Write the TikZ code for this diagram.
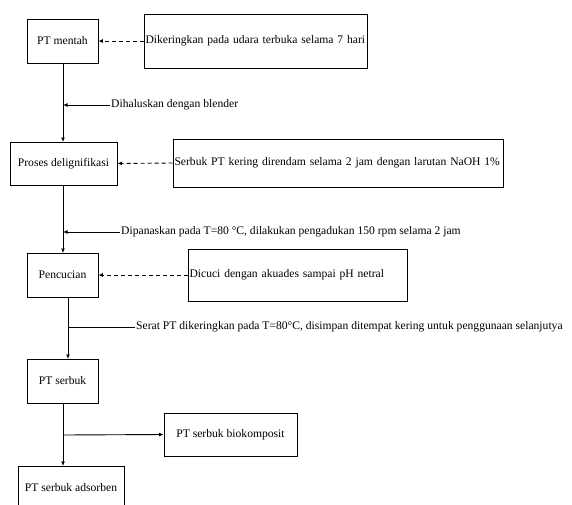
\documentclass[tikz,border=0pt]{standalone}
\usepackage{fontspec}
\setmainfont{Liberation Serif}
\usetikzlibrary{arrows.meta}
\begin{document}
\begin{tikzpicture}[x=1pt,y=-1pt,
  box/.style={draw, line width=0.9pt, inner sep=0pt, font=\fontsize{11.6}{13}\selectfont},
  lbl/.style={inner sep=1pt, anchor=west, font=\fontsize{11.6}{13}\selectfont},
  flow/.style={line width=0.9pt, -{Latex[length=4.5pt,width=4pt]}},
  dasharrow/.style={line width=0.9pt, dash pattern=on 4pt off 3pt, -{Latex[length=4.5pt,width=4pt]}},
  plain/.style={line width=0.9pt}]
\useasboundingbox (0,0) rectangle (572,504);
\begin{scope}
\clip (0,0) rectangle (572,504);
% main boxes
\node[box, minimum width=71pt, minimum height=44pt] (mentah) at (62.5,41) {PT mentah};
\node[box, minimum width=107pt, minimum height=43pt] (proses) at (63.5,163.5) {Proses delignifikasi};
\node[box, minimum width=71pt, minimum height=44pt] (cuci) at (62.5,275) {Pencucian};
\node[box, minimum width=71pt, minimum height=44pt] (serbuk) at (62.5,381) {PT serbuk};
\node[box, minimum width=133pt, minimum height=43pt] (bio) at (230.5,434.5) {PT serbuk biokomposit};
\node[box, minimum width=106pt, minimum height=44pt] (ads) at (71,488) {PT serbuk adsorben};
% side boxes
\node[box, minimum width=223pt, minimum height=54pt, text width=220pt, align=left] (kering) at (255.5,41) {Dikeringkan pada udara terbuka selama 7 hari};
\node[box, minimum width=330pt, minimum height=48pt, text width=327pt, align=left] (rendam) at (338,163) {Serbuk PT kering direndam selama 2 jam dengan larutan NaOH 1\%};
\node[box, minimum width=219pt, minimum height=52pt, text width=216pt, align=left] (akuades) at (297.5,275) {Dicuci dengan akuades sampai pH netral};
% labels
\node[lbl] (haluskan) at (110,105) {Dihaluskan dengan blender};
\node[lbl] (panas) at (120,232) {Dipanaskan pada T=80 °C, dilakukan pengadukan 150 rpm selama 2 jam};
\node[lbl] (serat) at (135,327) {Serat PT dikeringkan pada T=80°C, disimpan ditempat kering untuk penggunaan selanjutya};
% coordinates on vertical lines
\coordinate (c1top) at (63,63);
\coordinate (c1) at (63,105);
\coordinate (c1bot) at (63,142);
\coordinate (c2top) at (63,185);
\coordinate (c2) at (63,232);
\coordinate (c2bot) at (63,253);
\coordinate (c3top) at (68,297);
\coordinate (c3) at (68,327);
\coordinate (c3bot) at (68,359);
\coordinate (c4top) at (63,403);
\coordinate (c4) at (63,435);
\coordinate (c4bot) at (63,466);
% flow
\draw[flow] (c1top) -- (c1bot);
\draw[flow] (c2top) -- (c2bot);
\draw[flow] (c3top) -- (c3bot);
\draw[flow] (c4top) -- (c4bot);
\draw[flow] (haluskan.west) -- (c1);
\draw[flow] (panas.west) -- (c2);
\draw[plain] (serat.west) -- (c3);
\draw[flow] (c4) -- (bio.west);
% dashed
\draw[dasharrow] (kering.west) -- (mentah.east);
\draw[dasharrow] (rendam.west) -- (proses.east);
\draw[dasharrow] (akuades.west) -- (cuci.east);
\end{scope}
\end{tikzpicture}
\end{document}
